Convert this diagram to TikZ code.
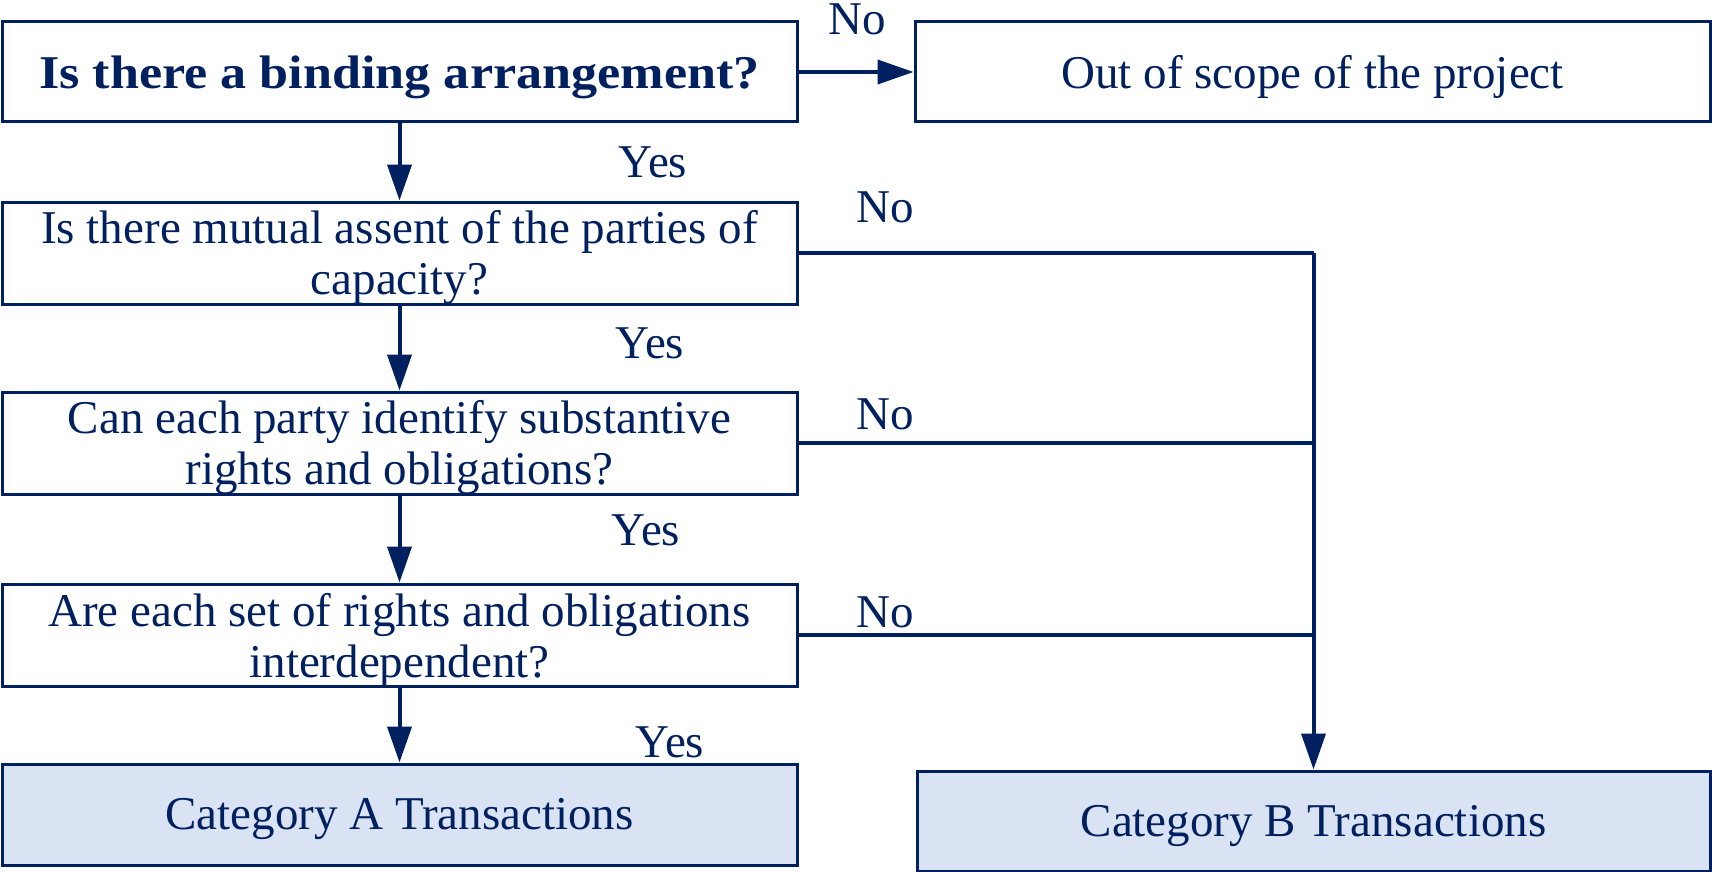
\documentclass[tikz,border=0pt]{standalone}
\usepackage{fontspec}
\setmainfont{Liberation Serif}[BoldFeatures={FakeStretch=1.11}]
\usetikzlibrary{arrows.meta}
\definecolor{navy}{HTML}{002060}
\definecolor{paleblue}{HTML}{DAE3F3}
\tikzset{
  boxfont/.style={font=\fontsize{23.5}{25.5}\selectfont},
  boxtext/.style={boxfont, text=navy, align=center, inner sep=0pt, yshift=-2.5pt},
  box/.style={draw=navy, line width=1.5pt, fill=white, inner sep=0pt,
    minimum width=397.5pt, minimum height=50pt,
    label={[boxtext]center:#1}},
  result/.style={box={#1}, fill=paleblue},
  conn/.style={draw=navy, line width=2pt},
  arr/.style={conn, -{Triangle[length=18pt, width=12pt]}},
  lbl/.style={boxfont, text=navy, inner sep=0pt}
}
\begin{document}
\begin{tikzpicture}[x=0.5pt, y=-0.5pt]
  \useasboundingbox (0,0) rectangle (1712,872);

  % question boxes down the left column
  \node[box={\bfseries Is there a binding arrangement?}] (q1) at (399.5,72) {};
  \node[box={Is there mutual assent of the parties of\\capacity?}, minimum height=51pt] (q2) at (399.5,253) {};
  \node[box={Can each party identify substantive\\rights and obligations?}, minimum height=51pt] (q3) at (399.5,443) {};
  \node[box={Are each set of rights and obligations\\interdependent?}, minimum height=51pt] (q4) at (399.5,635) {};
  \node[result={Category A Transactions}, minimum height=50.5pt] (catA) at (399.5,814.5) {};

  % outcomes on the right
  \node[box={Out of scope of the project}] (out) at (1312.5,72) {};
  \node[result={Category B Transactions}, minimum width=396.5pt] (catB) at (1313.5,821) {};

  % "yes" path
  \draw[arr] (q1.south) -- (q2.north);
  \draw[arr] (q2.south) -- (q3.north);
  \draw[arr] (q3.south) -- (q4.north);
  \draw[arr] (q4.south) -- (catA.north);

  % "no" paths
  \draw[arr] (q1.east) -- (out.west);
  \coordinate (j2) at (q2.east -| catB.north);
  \coordinate (j3) at (q3.east -| catB.north);
  \coordinate (j4) at (q4.east -| catB.north);
  \draw[conn] (q2.east) -- (j2);
  \draw[conn] (q3.east) -- (j3);
  \draw[conn] (q4.east) -- (j4);
  \draw[arr] (j2) -- (catB.north);

  % branch labels
  \node[lbl] (no1) at (857,19) {No};
  \node[lbl] (no2) at (885,207) {No};
  \node[lbl] (no3) at (885,414) {No};
  \node[lbl] (no4) at (885,612) {No};
  \node[lbl] (yes1) at (653,162) {Yes};
  \node[lbl] (yes2) at (650,343) {Yes};
  \node[lbl] (yes3) at (646,530) {Yes};
  \node[lbl] (yes4) at (670,742) {Yes};
\end{tikzpicture}
\end{document}
